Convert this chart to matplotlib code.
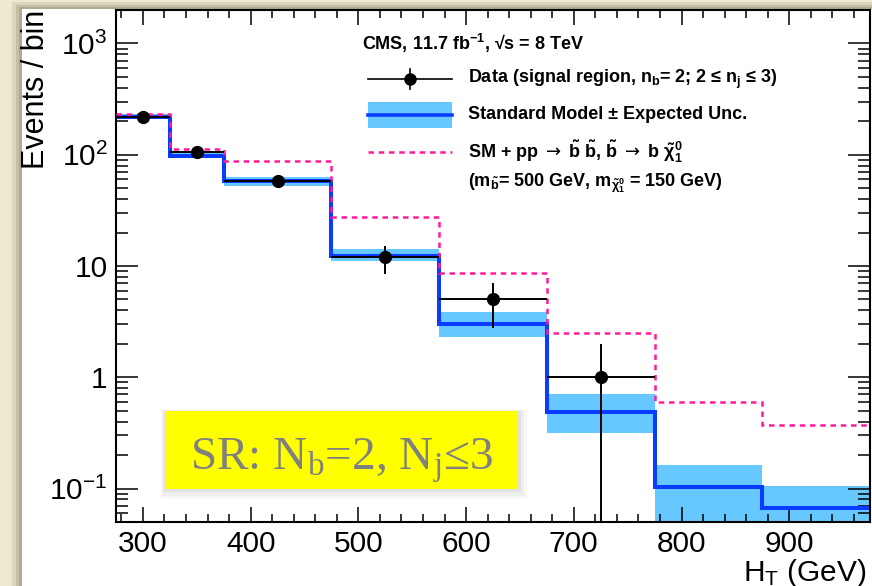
import numpy as np
import matplotlib
matplotlib.use("Agg")
import matplotlib.pyplot as plt
from matplotlib.patches import Rectangle
from matplotlib.lines import Line2D
from matplotlib.ticker import LogLocator, FuncFormatter, NullFormatter, MultipleLocator

plt.rcParams['font.family'] = ['Liberation Sans', 'DejaVu Sans']
plt.rcParams['mathtext.fontset'] = 'custom'
plt.rcParams['mathtext.rm'] = 'Liberation Sans'
plt.rcParams['mathtext.bf'] = 'Liberation Sans:bold'
plt.rcParams['mathtext.it'] = 'Liberation Sans:italic'
plt.rcParams['mathtext.sf'] = 'DejaVu Sans'
plt.rcParams['mathtext.default'] = 'regular'

# bins in HT (GeV)
edges = [275, 325, 375, 475, 575, 675, 775, 875, 975]

# standard model expectation and its band
sm = [220, 98, 58, 12.3, 3.0, 0.49, 0.103, 0.067]
sm_lo = [209, 93, 52.7, 11.1, 2.29, 0.315, 0.03, 0.03]
sm_hi = [231, 103, 63.6, 14.2, 3.87, 0.71, 0.163, 0.106]

# SM + sbottom signal
sig = [233, 113, 87.5, 27.4, 8.7, 2.5, 0.60, 0.37]

# data
data_x = [300, 350, 425, 525, 625, 725]
data_xerr = [25, 25, 50, 50, 50, 50]
data_y = [220, 106, 58, 12, 5, 1]
data_err_lo = [14.8, 10.3, 7.6, 3.5, 2.2, 1.0]
data_err_hi = [14.8, 10.3, 7.9, 3.2, 2.1, 1.0]

blue = '#0a3cff'
light = '#66c8ff'
pink = '#ff1a9c'

fig = plt.figure(figsize=(8.72, 5.86), dpi=100)
fig.patch.set_facecolor('#efe9cf')

# slide-like white panel with a soft shadow
W, H = 872.0, 586.0
for x0, y0, c in [(12, 2, '#dcd7bc'), (16, 5, '#c4c0a6'), (19, 7, '#aeab93'), (22, 9, 'white')]:
    fig.add_artist(Rectangle((x0 / W, 0), 1 - x0 / W, 1 - y0 / H, transform=fig.transFigure,
                             facecolor=c, edgecolor='none', zorder=-10))

ax = fig.add_axes([116 / W, 1 - 522 / H, 754 / W, 512 / H])
ax.set_yscale('log', nonpositive='clip')

widths = np.diff(edges)
ax.bar(edges[:-1], np.array(sm_hi) - np.array(sm_lo), bottom=sm_lo, width=widths,
       align='edge', color=light, linewidth=0, zorder=1)
ax.stairs(sm, edges, baseline=None, color=blue, linewidth=2.9, zorder=2)
ax.stairs(sig, edges, baseline=None, color=pink, linewidth=1.8, linestyle=(0, (2.2, 1.9)), zorder=3)
ax.errorbar(data_x, data_y, xerr=data_xerr, yerr=[data_err_lo, data_err_hi], fmt='o',
            color='black', markersize=8.5, elinewidth=1.4, capsize=0, zorder=4)

ax.set_xlim(275, 975)
ax.set_ylim(0.05, 2000)

ax.xaxis.set_major_locator(MultipleLocator(100))
ax.xaxis.set_minor_locator(MultipleLocator(20))
ax.yaxis.set_major_locator(LogLocator(base=10))
ax.yaxis.set_minor_locator(LogLocator(base=10, subs=np.arange(2, 10)))
ax.yaxis.set_minor_formatter(NullFormatter())


def ylab(v, pos):
    e = int(round(np.log10(v)))
    if e == 0:
        return '1'
    if e == 1:
        return '10'
    return r'$10^{%d}$' % e


ax.yaxis.set_major_formatter(FuncFormatter(ylab))

ax.tick_params(which='both', direction='in', top=True, right=True, width=1.1, colors='black')
ax.tick_params(axis='x', which='major', length=11, labelsize=21.5, pad=6)
ax.tick_params(axis='x', which='minor', length=5.5)
ax.tick_params(axis='y', which='major', length=16, labelsize=21.5, pad=6)
ax.tick_params(axis='y', which='minor', length=8.5)
for s in ax.spines.values():
    s.set_linewidth(1.5)

ax.set_xlabel(r'H$_{T}$ (GeV)', fontsize=21.5, ha='right', va='baseline')
ax.xaxis.set_label_coords(0.996, -0.1152)
fig.text(36 / W, 1 - 10 / H, 'Events / bin', rotation=90, ha='center', va='top', fontsize=22)

# legend
tx = 0.467
sx0, sx1 = 0.334, 0.446
sxm = (sx0 + sx1) / 2
lf = dict(fontsize=13, fontweight='bold', va='center', ha='left', transform=ax.transAxes)
ax.text(0.326, 0.934, r'CMS, 11.7 fb$^{-1}$, √s = 8 TeV', **lf)

yd = 0.865
ax.add_line(Line2D([sx0, sx1], [yd, yd], color='black', lw=1.2, transform=ax.transAxes))
ax.add_line(Line2D([sxm, sxm], [yd - 0.02, yd + 0.02], color='black', lw=1.2, transform=ax.transAxes))
ax.add_line(Line2D([sxm], [yd], marker='o', markersize=8, color='black', transform=ax.transAxes))
ax.text(tx, yd, r'Data (signal region, n$_{b}$= 2; 2 ≤ n$_{j}$ ≤ 3)', **lf)

ys = 0.795
ax.add_patch(Rectangle((sx0, ys - 0.0254), sx1 - sx0, 0.0508, transform=ax.transAxes,
                       facecolor=light, edgecolor='none'))
ax.add_line(Line2D([sx0, sx1], [ys, ys], color=blue, lw=2.6, transform=ax.transAxes))
ax.text(tx, ys, 'Standard Model ± Expected Unc.', **lf)

yg = 0.723
ax.add_line(Line2D([sx0, sx1], [yg, yg], color=pink, lw=1.8, linestyle=(0, (2.2, 1.9)),
                   transform=ax.transAxes))
ax.text(tx, yg, r'SM + pp $\mathsf{\rightarrow}$ $\tilde{b}$ $\tilde{b}$, $\tilde{b}$ '
                r'$\mathsf{\rightarrow}$ b $\tilde{\chi}^{0}_{1}$', **lf)
ax.text(tx, 0.662, r'(m$_{\tilde{b}}$= 500 GeV, m$_{\tilde{\chi}^{0}_{1}}$ = 150 GeV)', **lf)

# yellow label box with shadow
bx, by, bw, bh = 0.0663, 0.0645, 0.4667, 0.1523
for d, a in [(0.012, 0.05), (0.008, 0.08), (0.004, 0.12)]:
    ax.add_patch(Rectangle((bx - d * 0.6, by - d * 1.6), bw + d * 1.6, bh + d * 1.8,
                           transform=ax.transAxes, facecolor='gray', alpha=a,
                           edgecolor='none', zorder=5))
ax.add_patch(Rectangle((bx, by), bw, bh, transform=ax.transAxes, facecolor='#ffff00',
                       edgecolor='none', zorder=6))
ax.text(0.2997, 0.1016, r'SR: N$_{b}$=2, N$_{j}$≤3', transform=ax.transAxes,
        fontsize=34, color='#808080', ha='center', va='baseline', zorder=7,
        family=['Liberation Serif', 'DejaVu Serif'])

fig.savefig('out.png', dpi=100)
